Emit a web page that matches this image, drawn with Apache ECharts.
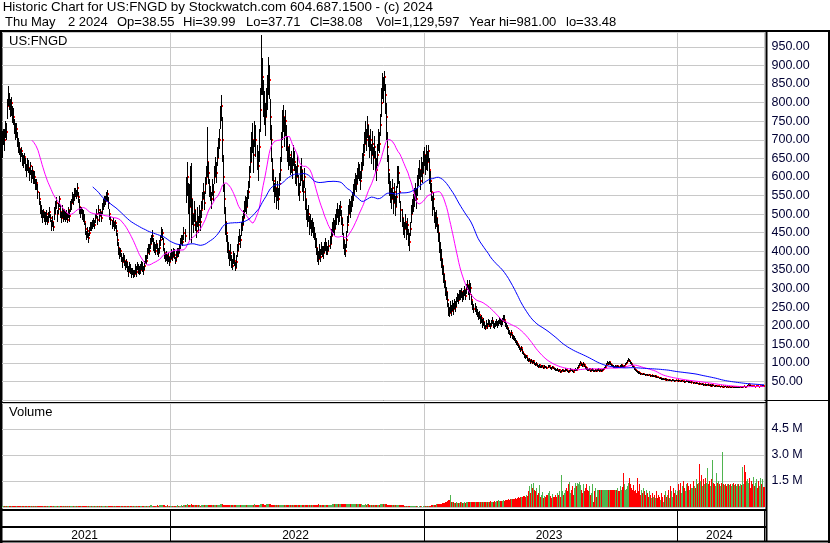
<!DOCTYPE html>
<html><head><meta charset="utf-8">
<script src="https://cdn.jsdelivr.net/npm/echarts@6/dist/echarts.min.js"></script>
<style>html,body{margin:0;padding:0;background:#fff}#c{width:830px;height:543px}</style>
</head><body><div id="c"></div>
<script>
const years = ['2021','2022','2023','2024'];
const barsPerYear = [166,250,250,86];
const symbolName = 'US:FNGD';
const panelName = 'Volume';
const titleLine1 = 'Historic Chart for US:FNGD by Stockwatch.com 604.687.1500 - (c) 2024';
const quoteFields = ['Thu May', '2 2024', 'Op=38.55', 'Hi=39.99', 'Lo=37.71', 'Cl=38.08', 'Vol=1,129,597', 'Year hi=981.00', 'lo=33.48'];
const maShort = 30, maLong = 90;

const close = [
690,710,700,735,720,790,820,805,780,800,
770,760,740,720,730,700,690,675,660,670,
650,640,655,630,620,640,625,610,630,600,
615,595,600,580,585,560,540,520,505,495,
505,490,485,500,480,495,505,490,470,480,
465,500,520,530,500,515,540,505,490,510,
495,505,490,500,485,510,495,520,530,545,
540,555,560,550,570,545,520,505,510,500,
495,480,460,440,455,435,450,470,465,475,
480,470,490,500,485,510,495,505,490,515,
525,540,535,550,555,530,500,485,470,480,
465,475,455,430,410,395,400,380,370,385,
375,360,370,355,345,360,350,340,345,335,
340,350,345,360,355,345,350,365,355,350,
360,380,375,395,410,400,420,430,440,415,
410,400,420,405,395,410,430,445,450,420,
395,380,390,375,385,370,
380,395,385,400,390,375,385,400,395,410,
420,435,425,450,440,560,600,545,520,580,
540,500,470,510,480,455,490,470,505,480,
510,540,560,530,580,600,640,610,570,555,
540,570,560,600,630,610,650,680,700,760,
790,700,600,540,480,450,420,400,380,395,
370,360,385,375,355,370,400,420,440,430,
460,470,490,510,530,520,545,560,600,640,
680,700,660,720,700,650,630,680,780,900,
870,820,780,760,800,830,880,860,760,700,
620,590,560,570,545,560,540,580,620,680,
740,760,720,750,700,680,650,660,630,640,
620,660,640,610,600,630,580,560,600,620,
590,560,600,540,510,490,500,470,480,460,
470,455,445,430,410,390,380,400,385,410,
400,395,410,420,405,400,415,420,440,460,
470,460,480,495,510,490,500,520,490,470,
430,410,400,430,470,500,520,510,530,540,
560,570,590,580,600,620,610,590,620,640,
660,690,720,700,740,710,680,700,660,690,
650,680,640,620,660,700,690,740,800,850,
840,870,820,760,680,620,580,560,540,570,
530,560,520,545,600,610,560,510,490,470,
460,480,450,470,440,425,460,500,520,530,
545,560,540,580,600,620,590,630,610,640,
660,630,650,640,670,620,590,560,520,540,
500,480,490,470,450,420,400,380,360,340,
320,300,290,270,245,235,250,240,255,245,
260,250,265,275,270,285,280,290,275,285,
295,280,300,310,295,285,300,270,255,245,
250,240,235,225,230,215,220,205,210,200,
195,205,200,210,205,200,208,212,205,200,
205,210,202,208,215,210,205,212,220,215,
205,200,195,185,180,175,180,170,168,165,
160,155,150,145,140,135,140,130,125,120,
115,118,110,105,108,102,106,100,104,98,
95,98,92,90,94,88,90,92,87,90,
88,86,90,92,87,85,89,86,84,82,
80,82,78,80,76,78,80,77,79,82,
80,78,76,79,82,80,78,75,80,82,
80,85,90,95,100,96,92,98,94,88,
85,82,80,84,78,80,82,79,77,80,
78,80,82,79,81,78,80,83,86,90,
95,100,98,102,97,94,92,90,88,91,
89,92,88,90,93,91,88,92,96,100,
104,108,105,100,98,92,88,84,80,78,
76,74,72,70,71,69,70,68,67,68,
67,66,68,65,66,64,65,63,64,62,
61,60,58,59,57,56,57,55,56,54,
55,53,54,52,53,54,52,51,53,52,
53,51,52,50,51,52,50,49,50,51,
50,48,49,47,48,46,47,45,46,44,
45,43,44,42,43,41,42,40,41,42,
40,39,41,38,40,39,37,38,39,37,
38,36,37,36,38,35,37,36,35,36,
35,36,34,35,36,34,35,34,34,35,
34,35,36,34,35,37,36,35,38,40,
42,40,39,38,37,38,36,37,38,37,
36,37,38,37,39,38.08
];

const hiAdd = [
35,20,30,15,25,20,25,20,30,15,
20,25,15,25,15,20,15,20,15,10,
15,20,10,20,15,10,20,15,10,20,
15,20,15,15,10,20,20,15,20,15,
10,15,20,10,15,10,15,10,15,15,
15,20,15,15,10,15,10,20,15,15,
15,10,15,10,15,10,15,15,10,15,
15,15,10,15,13,15,20,15,10,15,
15,20,15,15,10,15,15,10,15,10,
10,15,10,15,10,15,10,10,15,15,
15,10,15,10,10,15,15,10,15,10,
15,10,15,20,15,15,10,15,15,10,
15,15,10,15,15,10,15,15,10,15,
10,15,15,10,10,15,15,10,15,10,
15,10,15,15,10,20,15,15,17,20,
15,20,10,15,15,20,15,20,10,15,
15,15,10,15,10,15,
15,10,15,10,15,10,15,10,15,10,
15,10,20,15,20,40,41,40,60,50,
97,40,30,25,30,25,30,25,20,30,
25,20,25,30,20,30,95,30,25,20,
20,25,20,30,25,30,30,25,30,30,
30,60,60,40,40,30,25,25,20,25,
20,20,15,20,15,20,20,20,20,15,
20,25,20,25,20,25,20,30,30,40,
40,45,40,30,40,35,40,50,60,81,
50,40,50,40,40,45,43,40,50,40,
30,30,25,30,25,30,30,30,35,40,
40,34,40,30,40,30,30,30,25,30,
30,25,30,25,30,30,25,25,30,30,
30,30,25,30,30,25,25,25,20,25,
20,25,20,20,25,20,20,20,20,15,
15,20,15,15,20,15,15,20,20,20,
20,25,20,20,20,25,25,15,20,20,
20,20,20,25,25,25,20,25,20,20,
20,25,20,25,25,20,25,25,20,25,
30,30,30,30,25,30,30,30,30,35,
30,30,30,30,30,30,30,30,40,30,
30,15,30,40,40,40,30,30,30,25,
30,25,30,30,30,20,30,25,25,20,
20,20,25,20,20,25,20,25,20,25,
25,25,30,25,25,25,30,25,30,30,
20,30,36,30,15,30,25,25,30,20,
20,25,20,20,20,30,25,25,20,20,
20,20,15,20,15,15,15,15,15,15,
12,15,12,12,15,12,15,12,15,12,
12,15,12,12,15,37,15,15,12,12,
12,12,10,12,10,12,10,12,10,10,
8,10,8,8,10,8,8,10,8,8,
8,8,10,8,8,8,10,8,8,13,
8,8,8,8,8,6,8,8,6,6,
6,6,6,6,5,6,5,6,5,5,
5,4,5,4,4,5,4,4,4,4,
4,3,4,3,3,4,3,3,3,3,
3,3,3,3,3,3,3,3,3,3,
3,3,3,3,3,3,3,3,3,3,
3,3,3,3,3,3,3,3,3,3,
3,4,4,4,6,4,4,4,4,4,
3,3,3,3,3,3,3,3,3,3,
3,3,3,3,3,3,3,3,3,3,
4,4,4,4,4,4,3,3,3,3,
3,3,3,3,3,3,3,3,3,3,
4,4,4,4,4,4,4,3,3,3,
3,3,3,2,2,2,2,2,2,2,
2,2,2,2,2,2,2,2,2,2,
2,2,2,2,2,2,2,2,2,2,
2,2,2,2,2,2,2,2,2,2,
2,2,2,2,2,2,2,2,2,2,
2,2,2,2,2,2,2,2,2,2,
2,2,2,2,2,2,2,2,2,2,
2,2,2,2,2,2,2,2,2,2,
1,1,1,1,1,1,1,1,1,1,
1,1,1,1,1,1,1,1,1,1,
1,1,1,1,1,1,1,1,1,1,
1,1,1,1,1,1,1,1,1,1,
1,1,1,1,1,1.91
];

const loSub = [
40,25,30,30,20,35,30,25,20,35,
25,20,25,20,25,20,25,15,20,15,
20,15,20,15,20,25,15,20,25,15,
20,15,20,15,20,20,15,20,15,20,
15,10,15,20,10,15,15,10,15,15,
10,15,20,15,20,15,20,15,15,20,
15,20,10,15,10,20,15,15,20,15,
15,20,15,10,20,15,20,15,10,15,
15,10,15,10,20,13,10,15,10,15,
15,10,15,10,15,10,15,10,10,15,
15,20,10,15,20,15,15,15,10,15,
10,15,15,15,20,15,15,10,15,15,
15,10,15,10,15,15,10,12,10,7,
10,10,15,10,15,10,10,15,10,15,
10,15,10,15,15,10,15,10,15,15,
15,10,15,15,10,15,15,10,20,20,
15,10,15,10,15,10,
10,15,10,15,10,10,10,15,10,15,
15,15,10,20,15,30,50,45,90,60,
118,30,20,30,25,20,25,20,30,25,
20,25,20,20,25,20,40,30,25,20,
25,20,25,20,30,25,20,30,25,30,
40,60,40,40,35,25,25,20,20,20,
15,10,20,15,9,15,15,20,15,20,
20,15,20,20,25,20,25,20,30,30,
40,35,50,40,45,30,40,40,60,80,
50,60,40,50,40,50,60,50,60,60,
30,30,30,25,30,25,30,30,30,40,
40,40,40,40,30,40,30,30,25,30,
25,30,25,30,25,30,30,25,25,30,
30,25,30,30,25,25,20,25,20,20,
20,20,15,20,20,20,17,20,15,20,
15,15,15,20,15,10,15,15,20,20,
20,20,20,25,20,20,20,25,20,25,
25,20,15,20,20,25,20,20,25,20,
25,20,25,20,20,25,20,25,25,20,
30,25,30,30,35,30,30,30,25,30,
30,30,30,30,30,30,25,30,40,40,
40,40,50,60,40,40,30,30,25,30,
30,30,25,25,30,30,30,30,25,25,
25,20,20,25,25,25,20,25,20,25,
25,25,25,30,25,25,25,30,25,30,
30,25,30,25,30,40,30,25,25,30,
25,20,25,20,25,25,25,25,25,25,
20,20,20,20,20,13,15,15,15,15,
15,12,15,12,12,15,12,15,12,15,
15,12,15,15,12,15,15,15,12,12,
12,10,12,10,12,10,12,10,12,10,
8,8,10,8,8,10,8,8,10,8,
8,10,8,8,10,8,8,10,8,8,
8,8,8,8,6,8,6,6,6,6,
6,6,5,6,6,5,6,5,5,6,
4,5,4,4,4,4,4,4,4,4,
3,4,3,3,4,3,3,4,3,3,
3,3,3,3,3,3,3,3,3,3,
3,3,3,3,3,3,3,3,3,3,
3,3,3,3,3,3,3,3,3,3,
3,3,4,4,4,4,4,4,4,4,
3,3,3,3,3,3,3,3,3,3,
3,3,3,3,3,3,3,3,3,3,
4,4,4,4,4,3,3,3,3,3,
3,3,3,3,3,3,3,3,3,3,
4,4,4,4,4,4,3,3,3,3,
3,3,2,2,2,2,2,2,2,2,
2,2,2,2,2,2,2,2,2,2,
2,2,2,2,2,2,2,2,2,2,
2,2,2,2,2,2,2,2,2,2,
2,2,2,2,2,2,2,2,2,2,
2,2,2,2,2,2,2,2,2,2,
2,2,2,2,2,2,2,2,2,2,
2,2,2,2,2,2,2,2,2,2,
1,1,1,1,1,1,1,1,1,1,
1,1,1,1,1,1,1,0.52,1,1,
1,1,1,1,1,1,1,1,1,1,
1,1,1,1,1,1,1,1,1,1,
1,1,1,1,1,0.37
];

const volumeK = [
60,45,50,40,55,70,50,45,40,50,
45,40,50,35,40,45,50,40,35,45,
40,35,45,40,50,45,40,35,45,50,
45,50,40,55,50,60,45,50,40,45,
40,45,50,40,35,45,40,50,45,40,
55,50,45,40,50,45,40,35,45,40,
35,40,45,40,35,45,40,50,45,50,
45,55,50,45,60,55,50,45,40,45,
50,55,60,65,55,60,50,45,50,45,
40,45,50,45,40,50,45,40,45,50,
55,60,50,55,60,65,60,55,50,50,
50,45,55,60,65,60,55,60,65,55,
60,65,55,60,70,60,55,65,60,70,
65,60,55,65,60,55,60,65,60,55,
70,75,65,80,85,75,90,95,85,80,
80,75,85,90,80,95,100,110,105,95,
90,85,80,90,85,80,
75,80,85,70,75,80,85,90,80,85,
80,90,85,95,100,140,160,130,120,140,
150,120,100,110,95,90,100,95,90,85,
90,100,110,95,105,110,140,120,100,95,
90,95,100,110,120,115,125,130,135,150,
160,150,140,130,120,110,105,100,95,100,
95,100,90,95,100,90,95,100,95,90,
95,100,105,100,110,105,115,120,125,130,
135,140,130,145,140,130,125,140,150,170,
160,150,140,135,145,150,160,155,145,140,
130,125,120,115,120,115,110,120,125,130,
135,140,130,135,125,120,115,110,115,110,
105,110,100,105,110,100,105,110,115,110,
105,110,115,110,120,115,110,120,115,120,
125,120,130,125,135,140,145,130,135,125,
120,125,120,130,125,120,130,135,140,150,
155,160,170,175,180,185,190,180,175,170,
180,190,195,185,175,170,180,185,175,170,
165,160,170,165,155,160,150,145,150,140,
140,135,145,140,150,145,135,140,130,135,
130,125,135,130,125,130,140,145,150,160,
155,165,150,145,140,135,130,125,120,125,
115,120,110,115,120,110,105,100,95,90,
85,80,75,70,65,60,55,50,45,40,
35,30,35,30,25,30,35,30,25,30,
30,35,40,35,45,60,80,100,110,120,
130,140,150,160,170,180,190,200,210,220,
250,280,300,350,400,380,700,300,280,260,
250,240,260,230,250,240,260,270,250,240,
260,250,280,300,270,260,290,280,300,270,
280,300,260,290,270,310,280,300,290,310,
300,280,310,290,300,320,290,310,300,330,
310,340,320,400,350,330,360,340,380,360,
380,400,420,450,430,460,440,480,450,470,
500,480,520,550,530,580,600,560,620,650,
600,700,650,900,1200,800,1300,1100,1400,1000,
900,1100,700,800,1250,600,700,850,500,650,
550,700,800,900,650,500,750,600,550,700,
600,800,700,900,600,1850,900,700,800,1000,
1100,900,1300,1450,800,1000,1200,700,1100,1400,
1200,1400,1300,1450,1250,1000,800,1350,900,1100,
1300,1000,900,1200,700,800,1350,300,900,1100,
600,1000,1000,980,980,980,980,980,980,980,
980,980,980,980,980,980,980,980,980,980,
980,1100,900,1200,1000,1150,1950,1300,1000,1050,
1200,1400,1650,1300,1100,1000,1250,900,1000,800,
1650,900,1300,700,1000,800,1100,900,700,1000,
800,600,900,700,500,800,600,700,500,900,
500,700,600,400,800,600,300,700,900,600,
700,1000,500,1200,900,600,1100,800,1000,700,
900,1300,1000,1400,800,1200,1500,1100,900,1300,
1400,1200,1000,1300,1100,1500,1200,1100,1600,1300,
1400,2500,1500,1850,1200,1600,1300,1700,1400,2270,
1300,1500,1200,1600,2700,1400,1300,1200,1950,1400,
1500,1300,1200,1400,3200,1300,1250,1350,1200,1300,
1300,1250,1350,1200,1300,1400,1250,1300,1200,1350,
1300,1200,1350,1250,2300,1300,2400,2000,1500,1600,
1400,1700,1100,1500,1300,1750,1200,1400,1600,1100,
1500,1200,1700,1300,1600,1130
];

const N = close.length;
if ([hiAdd, loSub, volumeK].some(a => a.length !== N) || barsPerYear.reduce((a, b) => a + b, 0) !== N) {
  throw new Error('length mismatch ' + [N, hiAdd.length, loSub.length, volumeK.length].join(','));
}

// layout (pixels) — not data
const FONT = '"Liberation Sans", Arial, sans-serif';
const GRID_C = '#c8c8c8';
const LABEL_C = '#000033';
const GREEN = '#4fb44f';
const RED = '#ff0000';
const quoteFieldX = [5, 68, 117, 183, 246, 310, 376, 469, 566];
const PLOT_LEFT = 2, PLOT_WIDTH = 762.5;

const cats = close.map((_, i) => String(i));
const yearStart = [];
let acc = 0;
barsPerYear.forEach(n => { yearStart.push(acc); acc += n; });
const boundarySet = new Set(yearStart.slice(1));
const midLabel = {};
years.forEach((y, k) => { midLabel[yearStart[k] + Math.floor(barsPerYear[k] / 2) - 2] = y; });

function movingAverage(vals, n) {
  const out = [];
  let sum = 0;
  for (let i = 0; i < vals.length; i++) {
    sum += vals[i];
    if (i >= n) sum -= vals[i - n];
    out.push(i >= n - 1 ? +(sum / n).toFixed(2) : null);
  }
  return out;
}

const ohlc = close.map((c, i) => [i, c, c + hiAdd[i], c - loSub[i]]);
const vol = volumeK.map((v, i) => [i, v * 1000, i === 0 || close[i] >= close[i - 1] ? 1 : 0]);

function bandX(api, i) {
  const bw = api.size([1, 0])[0];
  const cx = api.coord([i, 0])[0];
  const x0 = Math.round(cx - bw / 2);
  const x1 = Math.round(cx + bw / 2);
  return [x0, Math.max(1, x1 - x0)];
}

const chart = echarts.init(document.getElementById('c'), null, { renderer: 'canvas' });
const hLine = (x1, x2, y, w) => ({ type: 'line', silent: true, shape: { x1, y1: y, x2, y2: y }, style: { stroke: '#000', lineWidth: w } });
const vLine = (x, y1, y2, w) => ({ type: 'line', silent: true, shape: { x1: x, y1, x2: x, y2 }, style: { stroke: '#000', lineWidth: w } });
const txt = (left, top, text, size) => ({ type: 'text', left, top, silent: true, style: { text, fill: '#000', font: (size || 13) + 'px ' + FONT } });

chart.setOption({
  animation: false,
  backgroundColor: '#fff',
  grid: [
    { left: PLOT_LEFT, top: 32, width: PLOT_WIDTH, height: 368 },
    { left: PLOT_LEFT, top: 403, width: PLOT_WIDTH, height: 104 },
    { left: PLOT_LEFT, top: 510, width: PLOT_WIDTH, height: 31 }
  ],
  xAxis: [
    { gridIndex: 0, type: 'category', data: cats, axisLine: { show: false }, axisTick: { show: false }, axisLabel: { show: false },
      splitLine: { show: true, interval: i => boundarySet.has(i), lineStyle: { color: GRID_C, width: 1 } } },
    { gridIndex: 1, type: 'category', data: cats, axisLine: { show: false }, axisTick: { show: false }, axisLabel: { show: false },
      splitLine: { show: true, interval: i => boundarySet.has(i), lineStyle: { color: GRID_C, width: 1 } } },
    { gridIndex: 2, type: 'category', data: cats, axisLine: { show: false }, axisTick: { show: false },
      axisLabel: { show: true, inside: true, margin: -1, interval: i => midLabel[i] !== undefined,
        formatter: (v, i) => midLabel[i] || '', color: '#000', fontSize: 12, fontFamily: FONT },
      splitLine: { show: true, interval: i => boundarySet.has(i), lineStyle: { color: '#000', width: 1 } } }
  ],
  yAxis: [
    { gridIndex: 0, type: 'value', position: 'right', min: 0, max: 990, interval: 50,
      axisLine: { show: false }, axisTick: { show: false },
      axisLabel: { color: LABEL_C, fontSize: 12.5, fontFamily: FONT, margin: 7,
        formatter: v => (v > 0 && v < 990 && v % 50 === 0) ? v.toFixed(2) : '' },
      splitLine: { lineStyle: { color: GRID_C, width: 1 } } },
    { gridIndex: 1, type: 'value', position: 'right', min: 0, max: 6000000, interval: 1500000,
      axisLine: { show: false }, axisTick: { show: false },
      axisLabel: { color: LABEL_C, fontSize: 12.5, fontFamily: FONT, margin: 7,
        formatter: v => (v > 0 && v < 6000000) ? (v / 1e6).toFixed(1) + ' M' : '' },
      splitLine: { lineStyle: { color: GRID_C, width: 1 } } },
    { gridIndex: 2, type: 'value', show: false, min: 0, max: 1 }
  ],
  series: [
    { type: 'custom', name: 'price', xAxisIndex: 0, yAxisIndex: 0, clip: true, data: ohlc,
      encode: { x: 0, y: [1, 2, 3] },
      renderItem: (params, api) => {
        const i = api.value(0);
        const [x0] = bandX(api, i);
        const yH = Math.round(api.coord([i, api.value(2)])[1]);
        const yL = Math.round(api.coord([i, api.value(3)])[1]);
        const yC = Math.round(api.coord([i, api.value(1)])[1]);
        return { type: 'group', children: [
          { type: 'rect', shape: { x: x0 + 1, y: yC - 1, width: 1, height: 2 }, style: { fill: RED } },
          { type: 'rect', shape: { x: x0, y: yH, width: 1, height: Math.max(1, yL - yH) }, style: { fill: '#000' } }
        ] };
      } },
    { type: 'line', name: 'ma' + maShort, xAxisIndex: 0, yAxisIndex: 0, data: movingAverage(close, maShort),
      showSymbol: false, symbol: 'none', connectNulls: false, lineStyle: { color: '#ff00ff', width: 1 } },
    { type: 'line', name: 'ma' + maLong, xAxisIndex: 0, yAxisIndex: 0, data: movingAverage(close, maLong),
      showSymbol: false, symbol: 'none', connectNulls: false, lineStyle: { color: '#0000ff', width: 1 } },
    { type: 'custom', name: 'volume', xAxisIndex: 1, yAxisIndex: 1, clip: true, data: vol,
      encode: { x: 0, y: 1 },
      renderItem: (params, api) => {
        const i = api.value(0);
        const [x0, w] = bandX(api, i);
        const yT = Math.round(api.coord([i, api.value(1)])[1]);
        const yB = Math.round(api.coord([i, 0])[1]);
        return { type: 'rect', shape: { x: x0, y: yT, width: w, height: Math.max(1, yB - yT) },
          style: { fill: api.value(2) ? GREEN : RED } };
      } }
  ],
  graphic: [
    txt(2.7, 1, titleLine1, 13.4),
    ...quoteFields.map((t, k) => txt(quoteFieldX[k], 16, t, 13)),
    txt(9, 35, symbolName),
    txt(9, 406, panelName),
    hLine(0, 830, 31, 2),
    vLine(1, 30, 543, 3),
    vLine(829, 30, 543, 2),
    vLine(766.5, 31, 542, 2),
    hLine(0, 830, 400.5, 1),
    hLine(0, 766, 402.5, 1),
    hLine(0, 766, 510, 2),
    hLine(0, 766, 527, 2),
    hLine(0, 830, 541.5, 2)
  ]
});
</script>
</body></html>
